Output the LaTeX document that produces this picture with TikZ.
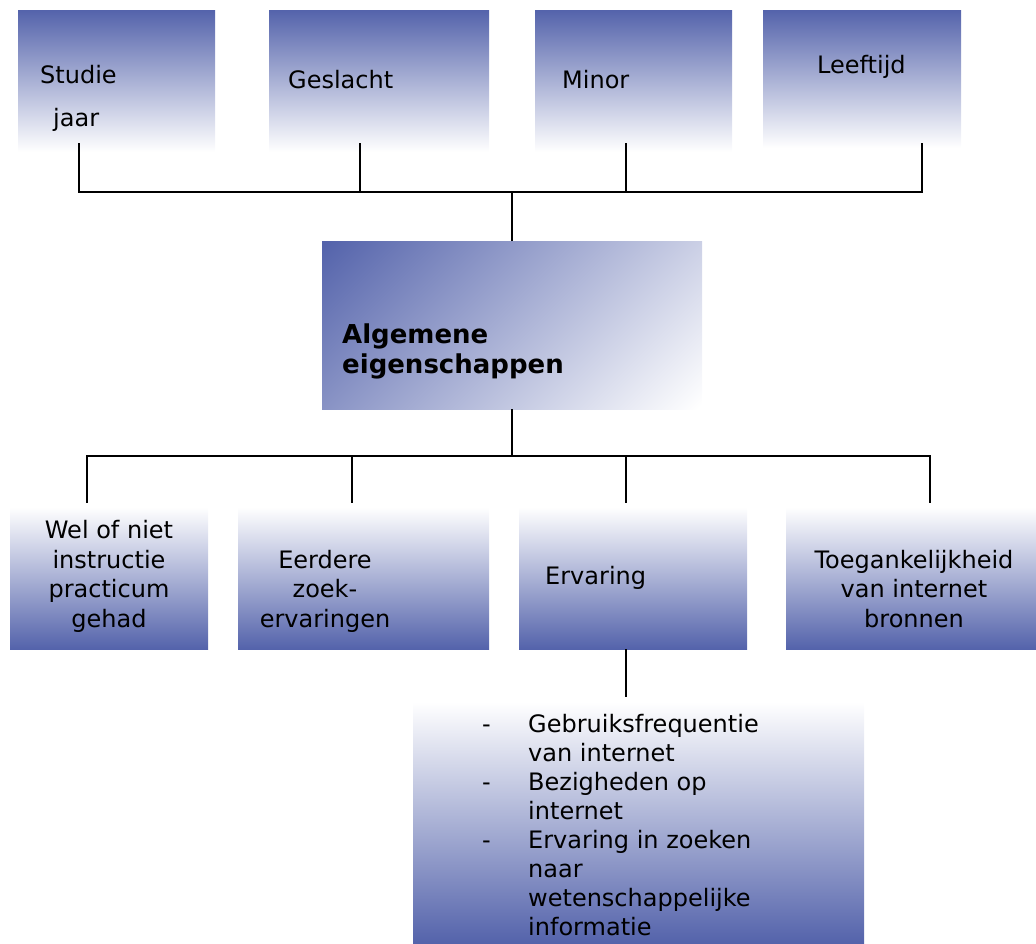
\documentclass[tikz,border=0pt]{standalone}
\usepackage{fontspec}
\setmainfont{DejaVu Sans}
\usetikzlibrary{calc}
\definecolor{ocBlue}{RGB}{84,99,171}
\pgfdeclarehorizontalshading{diagfade}{100bp}{color(0bp)=(ocBlue); color(15bp)=(ocBlue);
  color(85bp)=(white); color(100bp)=(white)}
\tikzset{
  box/.style    = {inner sep=0pt, outer sep=0pt},
  topbox/.style = {box, top color=ocBlue, bottom color=white,
                   minimum height=142pt},
  lowbox/.style = {box, top color=white, bottom color=ocBlue,
                   minimum height=142pt},
  midbox/.style = {box, shade, shading=diagfade, shading angle=-45},
  txt/.style    = {inner sep=0pt, font=\fontsize{24}{29.5}\selectfont},
  line/.style   = {line width=1.9pt, black}
}

\begin{document}
\begin{tikzpicture}[x=1pt, y=-1pt]
\useasboundingbox (0,0) rectangle (1036,943);
% top row
\node[topbox, minimum width=197pt] (studie)   at (116.5,81) {};
\node[topbox, minimum width=220pt] (geslacht) at (379,81)   {};
\node[topbox, minimum width=197pt] (minor)    at (633.5,81) {};
\node[topbox, minimum width=198pt, minimum height=138pt] (leeftijd) at (862,79) {};
\node[txt, anchor=base west, align=left] (studieT) at (40,126)
     {Studie\\[13.5pt]\hspace*{13pt}jaar};
\node[txt, anchor=base west] (geslachtT) at (288,88) {Geslacht};
\node[txt, anchor=base west] (minorT)    at (562,88) {Minor};
\node[txt, anchor=base west] (leeftijdT) at (817,73) {Leeftijd};
% centre
\node[midbox, minimum width=380pt, minimum height=168pt] (algemeen) at (512,325) {};
\node[txt, anchor=base west, align=left, font=\fontsize{26}{30}\bfseries]
     (algemeenT) at (342,373) {Algemene\\eigenschappen};
% bottom row
\node[lowbox, minimum width=198pt] (wel)      at (109,578)   {};
\node[lowbox, minimum width=251pt] (eerdere)  at (363.5,578) {};
\node[lowbox, minimum width=228pt] (ervaring) at (633,578)   {};
\node[lowbox, minimum width=250pt] (toegang)  at (911,578)   {};
\node[txt, anchor=base, align=center] (welT) at (109,627)
     {Wel of niet\\instructie\\practicum\\gehad};
\node[txt, anchor=base, align=center] (eerdereT) at (325,627)
     {Eerdere\\zoek-\\ervaringen};
\node[txt, anchor=base west] (ervaringT) at (545,584) {Ervaring};
\node[txt, anchor=base, align=center] (toegangT) at (914,627)
     {Toegankelijkheid\\van internet\\bronnen};
% list under Ervaring
\node[lowbox, minimum width=451pt, minimum height=241pt] (lijst) at (638.5,822.5) {};
\node[txt, anchor=base west, align=left, font=\fontsize{24}{29}\selectfont]
     (lijstT) at (482,935)
     {\makebox[46pt][l]{-}Gebruiksfrequentie\\
      \hspace*{46pt}van internet\\
      \makebox[46pt][l]{-}Bezigheden op\\
      \hspace*{46pt}internet\\
      \makebox[46pt][l]{-}Ervaring in zoeken\\
      \hspace*{46pt}naar\\
      \hspace*{46pt}wetenschappelijke\\
      \hspace*{46pt}informatie};
% connectors
\coordinate (topbus) at (512,192);
\coordinate (lowbus) at (512,456);
\draw[line] (algemeen.north) -- (topbus);
\foreach \n/\dx/\dy in {studie/-37.5/-9, geslacht/-19/-9, minor/-7.5/-9, leeftijd/60/-5}
  \draw[line] ($(\n.south)+(\dx,\dy)$) |- (topbus);
\draw[line] (algemeen.south) -- (lowbus);
\foreach \n/\dx in {wel/-22, eerdere/-11.5, ervaring/-7, toegang/19}
  \draw[line] (lowbus) -| ($(\n.north)+(\dx,-4)$);
\draw[line] ($(ervaring.south)+(-7,0)$) -- ($(lijst.north)+(-12.5,-5)$);
\end{tikzpicture}
\end{document}
